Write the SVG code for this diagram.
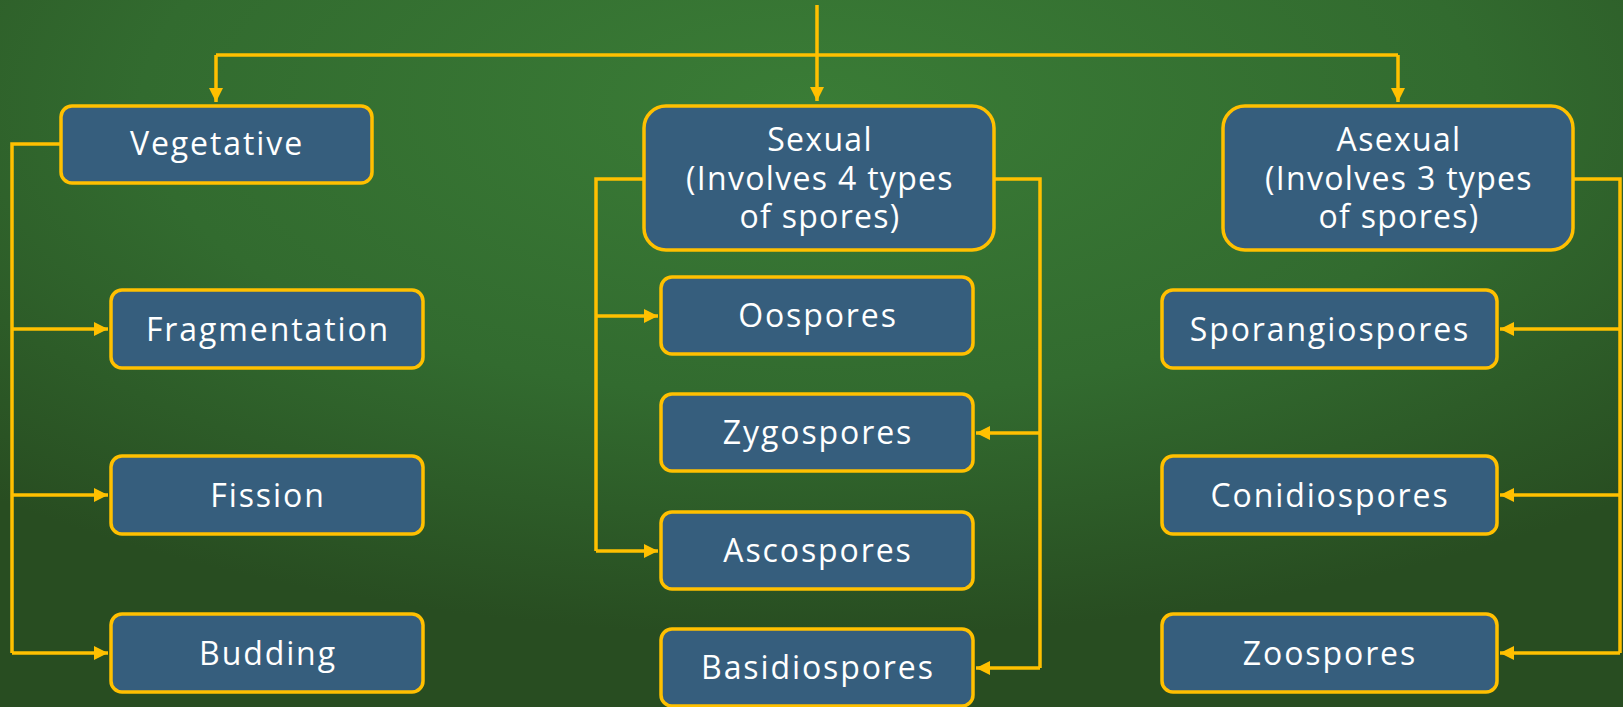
<svg xmlns="http://www.w3.org/2000/svg" width="1623" height="707" viewBox="0 0 1623 707">
<defs>
<radialGradient id="bg" cx="0.5" cy="0.15" r="0.75" fx="0.5" fy="0.15">
<stop offset="0" stop-color="#3a7c36"/>
<stop offset="0.55" stop-color="#326b2f"/>
<stop offset="1" stop-color="#284d21"/>
</radialGradient>
<marker id="ah" markerUnits="userSpaceOnUse" markerWidth="16" markerHeight="16" viewBox="0 0 16 16" refX="15" refY="8" orient="auto">
<path d="M1,1 L15,8 L1,15 Z" fill="#FFC000"/>
</marker>
<style>
.box{fill:#365E7D;stroke:#FFC000;stroke-width:3.5}
.lbl{font-family:"Open Sans","Liberation Sans",sans-serif;font-size:32px;fill:#ffffff;text-anchor:middle;letter-spacing:1.9px}
.ml{letter-spacing:1.3px}
.cn{fill:none;stroke:#FFC000;stroke-width:3.5}
</style>
</defs>
<rect x="0" y="0" width="1623" height="707" fill="url(#bg)"/>
<g id="connectors">
<path class="cn" d="M817,5 V101" marker-end="url(#ah)"/>
<path class="cn" d="M216,55 H1398"/>
<path class="cn" d="M216,55 V102" marker-end="url(#ah)"/>
<path class="cn" d="M1398,55 V102" marker-end="url(#ah)"/>
<path class="cn" d="M61,144 H12 V653"/>
<path class="cn" d="M12,329 H108" marker-end="url(#ah)"/>
<path class="cn" d="M12,495 H108" marker-end="url(#ah)"/>
<path class="cn" d="M12,653 H108" marker-end="url(#ah)"/>
<path class="cn" d="M644,179 H596 V551"/>
<path class="cn" d="M596,316 H658" marker-end="url(#ah)"/>
<path class="cn" d="M596,551 H658" marker-end="url(#ah)"/>
<path class="cn" d="M994,179 H1040 V668"/>
<path class="cn" d="M1040,433 H976" marker-end="url(#ah)"/>
<path class="cn" d="M1040,668 H976" marker-end="url(#ah)"/>
<path class="cn" d="M1573,179 H1620 V653"/>
<path class="cn" d="M1620,329 H1500" marker-end="url(#ah)"/>
<path class="cn" d="M1620,495 H1500" marker-end="url(#ah)"/>
<path class="cn" d="M1620,653 H1500" marker-end="url(#ah)"/>
</g>
<g id="vegetative"><rect class="box" x="61" y="106" width="311" height="77" rx="11"/><text class="lbl" x="217" y="155">Vegetative</text></g>
<g id="fragmentation"><rect class="box" x="111" y="290" width="312" height="78" rx="11"/><text class="lbl" x="268" y="341">Fragmentation</text></g>
<g id="fission"><rect class="box" x="111" y="456" width="312" height="78" rx="11"/><text class="lbl" x="268" y="507">Fission</text></g>
<g id="budding"><rect class="box" x="111" y="614" width="312" height="78" rx="11"/><text class="lbl" x="268" y="665">Budding</text></g>
<g id="sexual"><rect class="box" x="644" y="106" width="350" height="144" rx="22"/><text class="lbl ml" x="820" y="151">Sexual<tspan x="820" dy="39">(Involves 4 types</tspan><tspan x="820" dy="38">of spores)</tspan></text></g>
<g id="oospores"><rect class="box" x="661" y="277" width="312" height="77" rx="11"/><text class="lbl" x="818" y="327">Oospores</text></g>
<g id="zygospores"><rect class="box" x="661" y="394" width="312" height="77" rx="11"/><text class="lbl" x="818" y="444">Zygospores</text></g>
<g id="ascospores"><rect class="box" x="661" y="512" width="312" height="77" rx="11"/><text class="lbl" x="818" y="562">Ascospores</text></g>
<g id="basidiospores"><rect class="box" x="661" y="629" width="312" height="77" rx="11"/><text class="lbl" x="818" y="679">Basidiospores</text></g>
<g id="asexual"><rect class="box" x="1223" y="106" width="350" height="144" rx="22"/><text class="lbl ml" x="1399" y="151">Asexual<tspan x="1399" dy="39">(Involves 3 types</tspan><tspan x="1399" dy="38">of spores)</tspan></text></g>
<g id="sporangiospores"><rect class="box" x="1162" y="290" width="335" height="78" rx="11"/><text class="lbl" x="1330" y="341">Sporangiospores</text></g>
<g id="conidiospores"><rect class="box" x="1162" y="456" width="335" height="78" rx="11"/><text class="lbl" x="1330" y="507">Conidiospores</text></g>
<g id="zoospores"><rect class="box" x="1162" y="614" width="335" height="78" rx="11"/><text class="lbl" x="1330" y="665">Zoospores</text></g>
</svg>
